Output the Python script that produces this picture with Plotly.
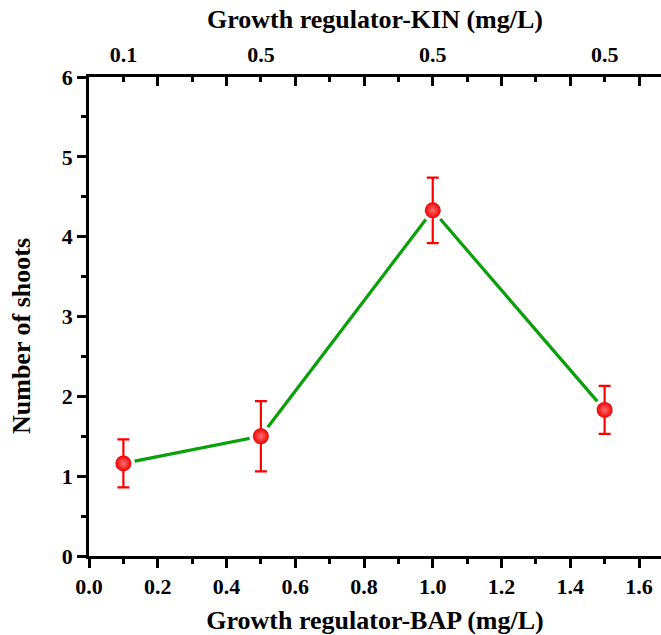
import plotly.graph_objects as go

bap = [0.1, 0.5, 1.0, 1.5]
shoots = [1.16, 1.50, 4.33, 1.83]
err = [0.30, 0.44, 0.41, 0.30]
kin_ticks = [0.1, 0.5, 1.0, 1.5]
kin_labels = ["0.1", "0.5", "0.5", "0.5"]

FONT = "Liberation Serif"
fig = go.Figure()

# connecting line
fig.add_trace(go.Scatter(x=bap, y=shoots, mode="lines",
                         line=dict(color="#0aa00a", width=3.2), hoverinfo="skip", showlegend=False))
# white halo to create gap between line and markers
fig.add_trace(go.Scatter(x=bap, y=shoots, mode="markers",
                         marker=dict(size=23, color="white"), hoverinfo="skip", showlegend=False))
# error bars
fig.add_trace(go.Scatter(x=bap, y=shoots, mode="markers",
                         marker=dict(size=1, color="rgba(0,0,0,0)"),
                         error_y=dict(type="data", array=err, color="#ff0000", thickness=2.2, width=6),
                         hoverinfo="skip", showlegend=False))
# spheres
fig.add_trace(go.Scatter(x=bap, y=shoots, mode="markers",
                         marker=dict(size=16, color="#f00000",
                                     gradient=dict(type="radial", color="#ff7070"),
                                     line=dict(width=0)),
                         showlegend=False))
# top axes helpers
fig.add_trace(go.Scatter(x=bap, y=shoots, xaxis="x2", mode="markers",
                         marker=dict(opacity=0), hoverinfo="skip", showlegend=False))
fig.add_trace(go.Scatter(x=bap, y=shoots, xaxis="x3", mode="markers",
                         marker=dict(opacity=0), hoverinfo="skip", showlegend=False))

tickfont = dict(family=FONT, size=22, color="black")
titlefont = dict(family=FONT, size=26, color="black")
xr = [0, 1.664]

fig.update_layout(
    width=661, height=635,
    margin=dict(l=89, r=0, t=77, b=79),
    plot_bgcolor="white", paper_bgcolor="white",
    font=dict(family=FONT, color="black"),
    xaxis=dict(range=xr, dtick=0.2, tick0=0, tickformat=".1f",
               ticks="outside", ticklen=9, tickwidth=2.5, tickcolor="black",
               minor=dict(dtick=0.1, ticks="outside", ticklen=5, tickwidth=2.5, tickcolor="black"),
               showline=True, linewidth=2.5, linecolor="black", showgrid=False, zeroline=False,
               tickfont=tickfont, tickprefix="<b>", ticksuffix="</b>",
               title=dict(text="<b>Growth regulator-BAP (mg/L)</b>", font=titlefont, standoff=14)),
    xaxis2=dict(range=xr, overlaying="x", side="top", dtick=0.2, tick0=0,
                ticks="inside", ticklen=9, tickwidth=2.5, tickcolor="black",
                minor=dict(dtick=0.1, ticks="inside", ticklen=5, tickwidth=2.5, tickcolor="black"),
                showline=True, linewidth=2.5, linecolor="black", showgrid=False, zeroline=False,
                showticklabels=False),
    xaxis3=dict(range=xr, overlaying="x", side="top", tickmode="array",
                tickvals=kin_ticks, ticktext=["<b>%s</b>" % t for t in kin_labels],
                ticks="outside", ticklen=5, tickcolor="rgba(0,0,0,0)",
                showline=False, showgrid=False, zeroline=False,
                tickfont=tickfont,
                title=dict(text="<b>Growth regulator-KIN (mg/L)</b>", font=titlefont, standoff=6)),
    yaxis=dict(range=[0, 6], dtick=1, tick0=0,
               ticks="outside", ticklen=9, tickwidth=2.5, tickcolor="black",
               minor=dict(dtick=0.5, ticks="outside", ticklen=5, tickwidth=2.5, tickcolor="black"),
               showline=True, linewidth=2.5, linecolor="black", showgrid=False, zeroline=False,
               tickfont=tickfont, tickprefix="<b>", ticksuffix="</b>",
               title=dict(text="<b>Number of shoots</b><span style='color:rgba(0,0,0,0)'>___</span>",
                          font=titlefont, standoff=24)),
)

fig.write_html("out.html")
